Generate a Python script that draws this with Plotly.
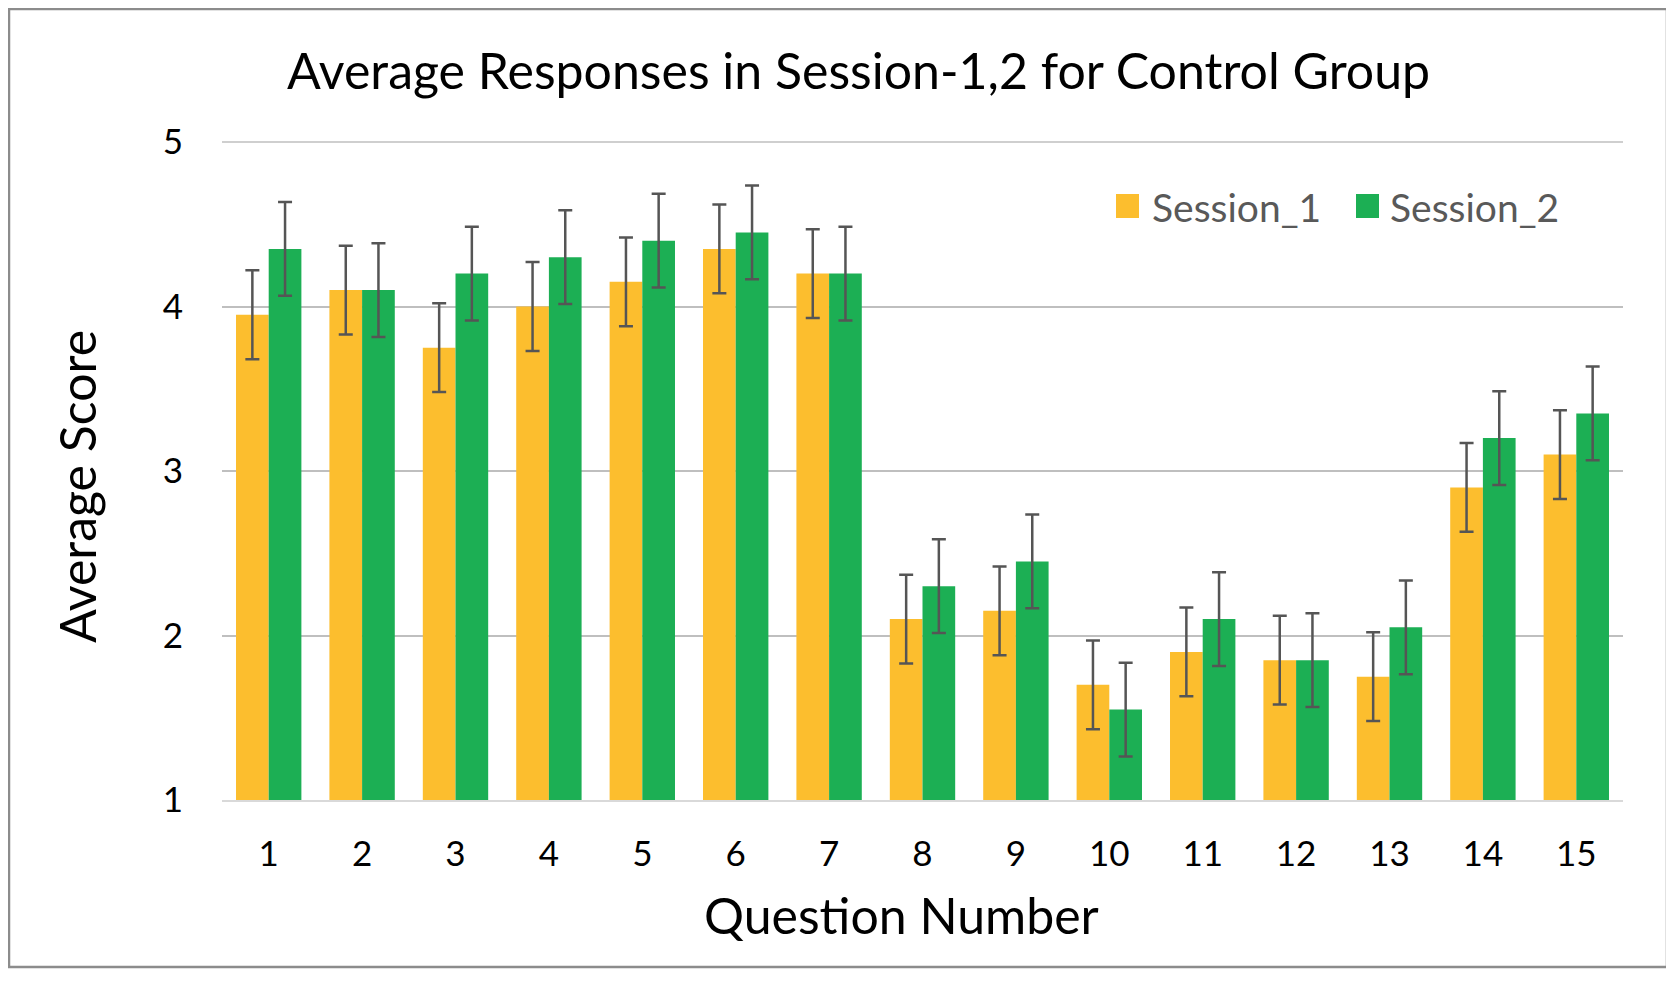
import plotly.graph_objects as go

questions = [str(i) for i in range(1, 16)]
session_1 = [3.95, 4.10, 3.75, 4.00, 4.15, 4.35, 4.20, 2.10, 2.15, 1.70, 1.90, 1.85, 1.75, 2.90, 3.10]
session_2 = [4.35, 4.10, 4.20, 4.30, 4.40, 4.45, 4.20, 2.30, 2.45, 1.55, 2.10, 1.85, 2.05, 3.20, 3.35]
err_1 = [0.27] * 15
err_2 = [0.285] * 15
y_ticks = [1, 2, 3, 4, 5]
series_names = ["Session_1", "Session_2"]

FONT = "Lato"
col1 = "#FCBE2E"
col2 = "#1CAF54"
errcol = "#555555"

W, H = 1666, 974
L, R, T, B = 214, 51, 134, 182
PW, PH = W - L - R, H - T - B


def px(x):
    return (x - L) / PW


def py(y):
    return (H - B - y) / PH


fig = go.Figure()
fig.add_trace(go.Bar(
    name=series_names[0], x=questions, y=session_1, marker_color=col1,
    marker_line_width=0, showlegend=False,
    error_y=dict(type="data", array=err_1, color=errcol, thickness=2.5, width=7),
))
fig.add_trace(go.Bar(
    name=series_names[1], x=questions, y=session_2, marker_color=col2,
    marker_line_width=0, showlegend=False,
    error_y=dict(type="data", array=err_2, color=errcol, thickness=2.5, width=7),
))

# legend drawn as shapes + text (larger swatches than plotly's legend allows)
legend_items = [(series_names[0], col1, 1108, 1142), (series_names[1], col2, 1348, 1380)]
shapes = [
    dict(type="rect", xref="paper", yref="paper",
         x0=px(1), x1=px(1659), y0=py(959), y1=py(1),
         line=dict(color="#8C8C8C", width=2.5), fillcolor="rgba(0,0,0,0)", layer="below"),
    dict(type="line", xref="paper", yref="paper", x0=0, x1=1, y0=1, y1=1,
         line=dict(color="#BFBFBF", width=1.5), layer="below"),
]
annotations = [
    dict(text="Average Responses in Session-1,2 for Control Group", xref="paper", yref="paper",
         x=px(850), y=py(62), xanchor="center", yanchor="middle",
         showarrow=False, font=dict(family=FONT, size=50, color="black")),
    dict(text="Question Number", xref="paper", yref="paper",
         x=px(893), y=py(907), xanchor="center", yanchor="middle",
         showarrow=False, font=dict(family=FONT, size=50, color="black")),
    dict(text="Average Score", xref="paper", yref="paper", textangle=-90,
         x=px(69), y=py(479), xanchor="center", yanchor="middle",
         showarrow=False, font=dict(family=FONT, size=50, color="black")),
]
for nm, c, sx, tx in legend_items:
    shapes.append(dict(type="rect", xref="paper", yref="paper",
                       x0=px(sx), x1=px(sx + 23), y0=py(210), y1=py(186),
                       line=dict(width=0), fillcolor=c))
    annotations.append(dict(text=nm, xref="paper", yref="paper", x=px(tx), y=py(199),
                            xanchor="left", yanchor="middle", showarrow=False,
                            font=dict(family=FONT, size=39, color="#595959")))

fig.update_layout(
    width=W, height=H,
    paper_bgcolor="white", plot_bgcolor="white",
    margin=dict(l=L, r=R, t=T, b=B, autoexpand=False),
    barmode="group", bargap=0.30, bargroupgap=0,
    font=dict(family=FONT, color="black"),
    showlegend=False,
    xaxis=dict(
        type="category", showgrid=False, showline=True, linecolor="#D9D9D9", linewidth=1.5,
        tickfont=dict(family=FONT, size=35, color="black"), ticks="", ticklabelstandoff=22,
    ),
    yaxis=dict(
        range=[1, 5], tickvals=y_ticks, showgrid=True, gridcolor="#BFBFBF", gridwidth=1.5,
        zeroline=False, showline=False,
        tickfont=dict(family=FONT, size=35, color="black"), ticks="", ticklabelstandoff=38,
    ),
    annotations=annotations,
    shapes=shapes,
)

fig.write_html("out.html")
